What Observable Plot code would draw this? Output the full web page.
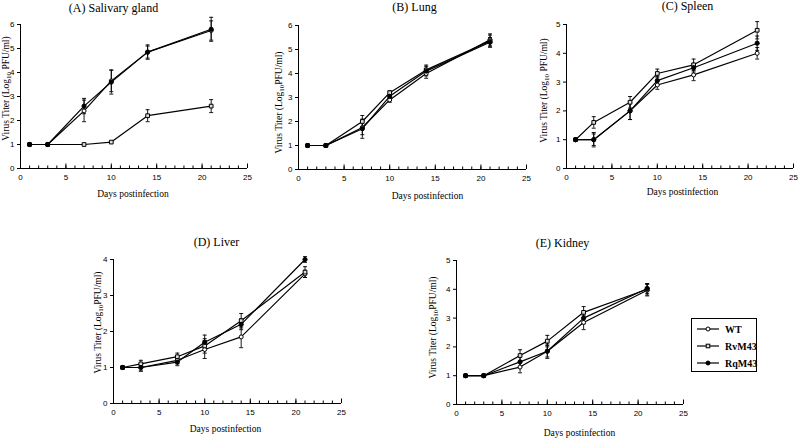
<!DOCTYPE html>
<html><head><meta charset="utf-8">
<script src="https://cdn.jsdelivr.net/npm/d3@7"></script>
<script src="https://cdn.jsdelivr.net/npm/@observablehq/plot@0.6"></script>
<style>
body{margin:0;background:#fff;}
#root{position:relative;width:800px;height:439px;overflow:hidden;background:#fff;}
.panel{position:absolute;}
.panel svg{overflow:visible;}
#legend{position:absolute;left:691px;top:318px;width:64px;height:52px;border:1px solid #000;background:#fff;
  font-family:"Liberation Serif","Times New Roman",serif;font-weight:bold;font-size:10px;}
#legend .row{position:absolute;left:0;height:12px;display:flex;align-items:center;}
#legend .row span{margin-left:6px;}
</style></head><body><div id="root"></div>
<script>
// ---- data ----
const days = [1, 3, 7, 10, 14, 21];
const seriesNames = ["WT", "RvM43", "RqM43"];
const xTicks = [0, 5, 10, 15, 20, 25];
const xLabel = "Days postinfection";

// (A) Salivary gland
const salivaryWT = [1, 1, 2.4, 3.65, 4.85, 5.75];
const salivaryWTErr = [0, 0, 0.45, 0.45, 0.25, 0.4];
const salivaryRv = [1, 1, 1, 1.1, 2.2, 2.6];
const salivaryRvErr = [0, 0, 0, 0, 0.25, 0.27];
const salivaryRq = [1, 1, 2.6, 3.6, 4.85, 5.8];
const salivaryRqErr = [0, 0, 0.32, 0.5, 0.3, 0.5];

// (B) Lung
const lungWT = [1, 1, 1.75, 2.9, 4.0, 5.4];
const lungWTErr = [0, 0, 0.3, 0.1, 0.2, 0.25];
const lungRv = [1, 1, 2.0, 3.2, 4.15, 5.35];
const lungRvErr = [0, 0, 0.25, 0.08, 0.2, 0.25];
const lungRq = [1, 1, 1.7, 3.05, 4.1, 5.3];
const lungRqErr = [0, 0, 0.4, 0.1, 0.2, 0.2];

// (C) Spleen
const spleenWT = [1, 1, 2.0, 2.9, 3.25, 4.0];
const spleenWTErr = [0, 0.25, 0.3, 0.15, 0.2, 0.2];
const spleenRv = [1, 1.6, 2.3, 3.3, 3.6, 4.8];
const spleenRvErr = [0, 0.2, 0.2, 0.15, 0.2, 0.3];
const spleenRq = [1, 1, 2.0, 3.05, 3.5, 4.35];
const spleenRqErr = [0, 0.2, 0.3, 0.15, 0.15, 0.25];

// (D) Liver
const liverWT = [1, 1, 1.2, 1.5, 1.85, 3.6];
const liverWTErr = [0, 0.1, 0.1, 0.25, 0.3, 0.1];
const liverRv = [1, 1.1, 1.3, 1.6, 2.3, 3.65];
const liverRvErr = [0, 0.1, 0.1, 0.2, 0.2, 0.15];
const liverRq = [1, 1, 1.15, 1.7, 2.2, 4.0];
const liverRqErr = [0, 0.1, 0.1, 0.2, 0.15, 0.08];

// (E) Kidney
const kidneyWT = [1, 1, 1.3, 1.85, 2.85, 3.97];
const kidneyWTErr = [0, 0, 0.2, 0.25, 0.25, 0.2];
const kidneyRv = [1, 1, 1.7, 2.2, 3.2, 4.0];
const kidneyRvErr = [0, 0, 0.2, 0.2, 0.2, 0.2];
const kidneyRq = [1, 1, 1.48, 1.85, 3.0, 4.03];
const kidneyRqErr = [0, 0, 0.2, 0.2, 0.2, 0.17];

// ---- layout ----
const serif = "'Liberation Serif','Times New Roman',serif";
const panels = [
  {title: "(A) Salivary gland", ylab: "Virus Titer (Log10 PFU/ml)", yMax: 6,
   vals: [salivaryWT, salivaryRv, salivaryRq], errs: [salivaryWTErr, salivaryRvErr, salivaryRqErr],
   left: 0, top: 0, width: 265, height: 200, ml: 20, mr: 18, mt: 24, mb: 32,
   tdx: -20.5, tdy: -16, xdx: -1, xdy: 25, ydx: -15, ydy: -8},
  {title: "(B) Lung", ylab: "Virus Titer (Log10PFU/ml)", yMax: 6,
   vals: [lungWT, lungRv, lungRq], errs: [lungWTErr, lungRvErr, lungRqErr],
   left: 265, top: 0, width: 270, height: 200, ml: 33, mr: 9, mt: 25, mb: 31,
   tdx: 2, tdy: -18, xdx: 15, xdy: 26, ydx: -20, ydy: 5},
  {title: "(C) Spleen", ylab: "Virus Titer (Log10 PFU/ml)", yMax: 5,
   vals: [spleenWT, spleenRv, spleenRq], errs: [spleenWTErr, spleenRvErr, spleenRqErr],
   left: 535, top: 0, width: 265, height: 200, ml: 31, mr: 7, mt: 24, mb: 32,
   tdx: 7.5, tdy: -18, xdx: 2.5, xdy: 23, ydx: -23, ydy: -6},
  {title: "(D) Liver", ylab: "Virus Titer (Log10PFU/ml)", yMax: 4,
   vals: [liverWT, liverRv, liverRq], errs: [liverWTErr, liverRvErr, liverRqErr],
   left: 60, top: 225, width: 320, height: 214, ml: 53, mr: 39, mt: 34, mb: 36,
   tdx: -11, tdy: -17, xdx: -2, xdy: 25, ydx: -16, ydy: -9},
  {title: "(E) Kidney", ylab: "Virus Titer (Log10PFU/ml)", yMax: 5,
   vals: [kidneyWT, kidneyRv, kidneyRq], errs: [kidneyWTErr, kidneyRvErr, kidneyRqErr],
   left: 400, top: 225, width: 290, height: 214, ml: 56, mr: 7, mt: 35, mb: 35,
   tdx: -7.5, tdy: -17, xdx: 9.5, xdy: 28, ydx: -24, ydy: -5}
];

const capSymbol = {draw(ctx, size) { const w = Math.sqrt(size / Math.PI); ctx.moveTo(-w, 0); ctx.lineTo(w, 0); }};
const dotStyle = {
  WT: {symbol: "circle", fill: "#fff", r: 2},
  RvM43: {symbol: "square", fill: "#ddd", r: 2.1},
  RqM43: {symbol: "circle", fill: "#000", r: 2.1}
};

const root = document.getElementById("root");

function makePanel(p) {
  const rows = [];
  seriesNames.forEach((s, k) => days.forEach((d, i) => rows.push({series: s, day: d, v: p.vals[k][i], e: p.errs[k][i]})));
  const errRows = rows.filter(r => r.e > 0);
  const marks = [
    Plot.ruleY([0], {stroke: "#000", strokeWidth: 1}),
    Plot.ruleX([0], {stroke: "#000", strokeWidth: 1}),
    Plot.axisX(d3.range(0, 26), {tickSize: -2.5, text: null, label: null}),
    Plot.axisX(xTicks, {tickSize: -4.5, text: null, label: null}),
    Plot.axisX(xTicks, {tickSize: 0, tickPadding: 6, label: null}),
    Plot.axisY(d3.range(0, p.yMax + 1), {tickSize: 3, tickPadding: 3, label: null}),
    Plot.line(rows, {x: "day", y: "v", z: "series", stroke: "#000", strokeWidth: 1.2}),
    Plot.ruleX(errRows, {x: "day", y1: d => d.v - d.e, y2: d => d.v + d.e, stroke: "#000", strokeWidth: 0.9}),
    Plot.dot(errRows, {x: "day", y: d => d.v + d.e, symbol: capSymbol, r: 2, fill: "none", stroke: "#000", strokeWidth: 0.9}),
    Plot.dot(errRows, {x: "day", y: d => d.v - d.e, symbol: capSymbol, r: 2, fill: "none", stroke: "#000", strokeWidth: 0.9})
  ];
  seriesNames.forEach(s => {
    marks.push(Plot.dot(rows.filter(r => r.series === s), {x: "day", y: "v", symbol: dotStyle[s].symbol,
      fill: dotStyle[s].fill, stroke: "#000", strokeWidth: 1, r: dotStyle[s].r}));
  });
  marks.push(
    Plot.text([p.title], {text: d => d, frameAnchor: "top", dx: p.tdx, dy: p.tdy, lineAnchor: "middle", textAnchor: "middle",
      fontSize: 12, fontFamily: serif, fill: "#000"}),
    Plot.text([xLabel], {text: d => d, frameAnchor: "bottom", dx: p.xdx, dy: p.xdy, lineAnchor: "middle", textAnchor: "middle",
      fontSize: 9.5, fontFamily: serif, fill: "#000"}),
    Plot.text([p.ylab], {text: d => d, frameAnchor: "left", dx: p.ydx, dy: p.ydy, rotate: -90, lineAnchor: "middle", textAnchor: "middle",
      fontSize: 9.5, fontFamily: serif, fill: "#000"})
  );
  const chart = Plot.plot({
    width: p.width, height: p.height,
    marginLeft: p.ml, marginRight: p.mr, marginTop: p.mt, marginBottom: p.mb,
    x: {domain: [0, 25], label: null},
    y: {domain: [0, p.yMax], label: null},
    style: {fontFamily: "'Liberation Sans', Arial, sans-serif", fontSize: "8px", background: "transparent", color: "#000"},
    marks
  });
  // subscript in y label
  d3.select(chart).selectAll("text").filter(function() { return this.textContent === p.ylab; }).each(function() {
    const t = d3.select(this);
    const idx = p.ylab.indexOf("10");
    const before = p.ylab.slice(0, idx), after = p.ylab.slice(idx + 2);
    t.text(null);
    t.attr("text-anchor", "middle");
    t.append("tspan").text(before);
    t.append("tspan").attr("dy", 2.5).attr("font-size", "7px").text("10");
    t.append("tspan").attr("dy", -2.5).text(after);
  });
  const div = document.createElement("div");
  div.className = "panel";
  div.style.left = p.left + "px";
  div.style.top = p.top + "px";
  div.appendChild(chart);
  root.appendChild(div);
}
panels.forEach(makePanel);

// legend
const legend = document.createElement("div");
legend.id = "legend";
const rowTops = [4, 21, 38];
seriesNames.forEach((s, i) => {
  const row = document.createElement("div");
  row.className = "row";
  row.style.top = rowTops[i] + "px";
  row.style.left = "5px";
  const st = dotStyle[s];
  const mark = st.symbol === "square"
    ? `<rect x="9.2" y="4.2" width="3.6" height="3.6" fill="${st.fill}" stroke="#000"/>`
    : `<circle cx="11" cy="6" r="2" fill="${st.fill}" stroke="#000"/>`;
  row.innerHTML = `<svg width="22" height="12"><line x1="0" y1="6" x2="22" y2="6" stroke="#000" stroke-width="1.2"/>${mark}</svg><span>${s}</span>`;
  legend.appendChild(row);
});
root.appendChild(legend);
</script>
</body></html>
